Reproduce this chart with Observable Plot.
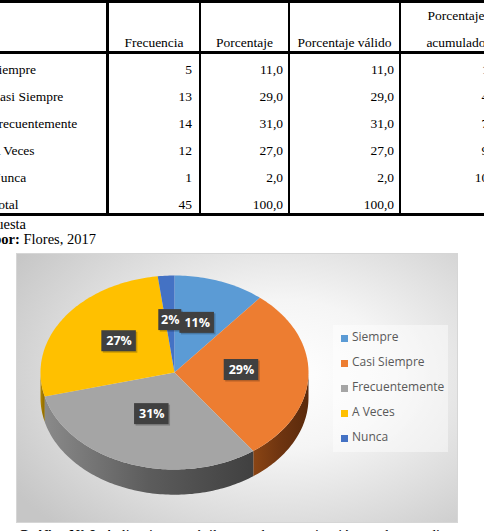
<!DOCTYPE html>
<html><head><meta charset="utf-8">
<script src="https://cdn.jsdelivr.net/npm/d3@7"></script>
<script src="https://cdn.jsdelivr.net/npm/@observablehq/plot@0.6"></script>
<style>
html,body{margin:0;padding:0;background:#fff;}
body{width:484px;height:531px;overflow:hidden;position:relative;font-family:"Liberation Serif","Times New Roman",serif;color:#000;}
#tbl{position:absolute;left:-20px;top:0;border-collapse:separate;border-spacing:0;font-size:13.5px;line-height:16px;}
#tbl td{padding:0;vertical-align:bottom;white-space:nowrap;}
#tbl td .c{display:flex;flex-direction:column;justify-content:flex-end;}
.src{position:absolute;font-size:14.5px;line-height:17px;white-space:nowrap;text-align:right;}
#chart{position:absolute;left:16px;top:253px;width:442px;height:270px;box-sizing:border-box;border:1px solid #d6d6d6;
 background:radial-gradient(ellipse 72% 80% at 60% 45%, #ffffff 0%, #f5f5f5 35%, #dcdcdc 70%, #c6c6c6 100%);}
#chart svg{position:absolute;left:0;top:0;}
#legend{position:absolute;left:333px;top:325px;width:115px;height:127px;background:rgba(255,255,255,0.45);font-family:"Open Sans",sans-serif;font-size:12px;color:#595959;}
#legend .it{position:absolute;left:0;height:16px;line-height:16px;white-space:nowrap;}
#legend .sw{position:absolute;left:8px;top:4.5px;width:7px;height:7px;}
#legend .tx{position:absolute;left:19px;top:-1px;}
#caption{position:absolute;left:18px;top:527px;font-size:14.5px;line-height:17px;white-space:nowrap;}
</style></head>
<body>
<table id="tbl"></table>
<div class="src" style="top:215.5px;right:458px;">Fuente: Encuesta</div>
<div class="src" style="top:231px;right:388px;"><b>Elaborado por:</b> Flores, 2017</div>
<div id="chart"></div>
<div id="legend"></div>
<div id="caption"><b>Gráfico N° 8:</b> Aplicaciones móviles para la comunicación con los estudiantes</div>
<script>
const categories = ["Siempre", "Casi Siempre", "Frecuentemente", "A Veces", "Nunca"];
const frecuencia = [5, 13, 14, 12, 1];
const porcentaje = [11.0, 29.0, 31.0, 27.0, 2.0];
const porcentajeValido = [11.0, 29.0, 31.0, 27.0, 2.0];
const porcentajeAcumulado = [11.0, 40.0, 71.0, 98.0, 100.0];
const totalLabel = "Total";
const totalFrecuencia = 45;
const totalPorcentaje = 100.0;
const totalValido = 100.0;
const headers = ["", "Frecuencia", "Porcentaje", "Porcentaje válido", ["Porcentaje", "acumulado"]];
const pieLabels = ["11%", "29%", "31%", "27%", "2%"];
const colors = ["#5B9BD5", "#ED7D31", "#A5A5A5", "#FFC000", "#4472C4"];

// ---------- table ----------
const fmtDec = v => v === "" ? "" : v.toFixed(1).replace(".", ",");
const colW = [126, 90, 87, 109, 110];
const colBR = [3, 2, 2, 2, 0];
const padR = [0, 7, 5, 5, 6];
const tbl = document.getElementById("tbl");
function addRow(cells, h, isHeader, isLast) {
  const tr = document.createElement("tr");
  cells.forEach((c, j) => {
    const td = document.createElement("td");
    td.style.borderRight = colBR[j] ? colBR[j] + "px solid #000" : "none";
    if (isHeader) { td.style.borderTop = "3px solid #000"; td.style.borderBottom = "3px solid #000"; }
    if (isLast) td.style.borderBottom = "3px solid #000";
    const div = document.createElement("div");
    div.className = "c";
    div.style.width = colW[j] + "px";
    div.style.height = h + "px";
    div.style.boxSizing = "border-box";
    if (isHeader) {
      div.style.alignItems = "center";
      if (Array.isArray(c)) {
        const a = document.createElement("div"); a.textContent = c[0]; a.style.marginBottom = "11px";
        const b = document.createElement("div"); b.textContent = c[1];
        div.appendChild(a); div.appendChild(b);
      } else { const a = document.createElement("div"); a.textContent = c; div.appendChild(a); }
    } else if (j === 0) {
      div.style.paddingLeft = "11px";
      div.style.alignItems = "flex-start";
      const a = document.createElement("div"); a.textContent = c; div.appendChild(a);
    } else {
      div.style.paddingRight = padR[j] + "px";
      div.style.alignItems = "flex-end";
      const a = document.createElement("div"); a.textContent = c; div.appendChild(a);
    }
    td.appendChild(div);
    tr.appendChild(td);
  });
  tbl.appendChild(tr);
}
addRow(headers, 48, true, false);
categories.forEach((c, i) => {
  addRow([c, String(frecuencia[i]), fmtDec(porcentaje[i]), fmtDec(porcentajeValido[i]), fmtDec(porcentajeAcumulado[i])], i === 0 ? 24 : 27, false, false);
});
addRow([totalLabel, String(totalFrecuencia), fmtDec(totalPorcentaje), fmtDec(totalValido), ""], 27, false, true);

// ---------- pie ----------
const depth = 0.26;
const total = d3.sum(porcentaje);
let acc = 0;
const slices = porcentaje.map((p, i) => {
  const a0 = acc / total * 2 * Math.PI; acc += p;
  const a1 = acc / total * 2 * Math.PI;
  return {i, cat: categories[i], a0, a1, color: colors[i], label: pieLabels[i]};
});
function arc(a0, a1, dv = 0) {
  const n = Math.max(2, Math.ceil((a1 - a0) / 0.02));
  return d3.range(n + 1).map(k => {
    const t = a0 + (a1 - a0) * k / n;
    return {u: Math.sin(t), v: -Math.cos(t) + dv};
  });
}
const tops = slices.map(s => ({...s, pts: [{u: 0, v: 0}, ...arc(s.a0, s.a1), {u: 0, v: 0}]}));
const sides = slices.map(s => {
  const t0 = Math.max(s.a0, Math.PI / 2), t1 = Math.min(s.a1, 3 * Math.PI / 2);
  if (t1 <= t0) return null;
  return {...s, pts: [...arc(t0, t1), ...arc(t0, t1, depth).reverse()]};
}).filter(Boolean);

const kx = (291 - 23) / 2, ky = (215 - 21) / 2;
const labelData = slices.map(s => {
  const m = (s.a0 + s.a1) / 2, r = 0.5;
  const u = r * Math.sin(m), v = -r * Math.cos(m);
  const w = s.label.length * 11.5, h = 21;
  return {u, v, label: s.label, x1: u - w / 2 / kx, x2: u + w / 2 / kx, y1: v - h / 2 / ky, y2: v + h / 2 / ky};
});

const marks = [];
sides.forEach(s => marks.push(Plot.line(s.pts, {x: "u", y: "v", fill: `url(#side${s.i})`, stroke: "none"})));
tops.forEach(s => marks.push(Plot.line(s.pts, {x: "u", y: "v", fill: s.color, stroke: "none"})));
marks.push(Plot.rect(labelData, {x1: "x1", x2: "x2", y1: "y1", y2: "y2", fill: "#000", fillOpacity: 0.22, dx: 1.5, dy: -2.5}));
marks.push(Plot.rect(labelData, {x1: "x1", x2: "x2", y1: "y1", y2: "y2", fill: "#404040", dy: -4}));
marks.push(Plot.text(labelData, {x: "u", y: "v", text: "label", fill: "#ffffff", fontWeight: "bold", fontSize: 12.5, fontFamily: "Open Sans", dy: -4}));

const svg = Plot.plot({
  width: 440, height: 268, margin: 0,
  x: {type: "linear", domain: [-1, 1], range: [23, 291], axis: null},
  y: {type: "linear", domain: [-1, 1], range: [21, 215], axis: null},
  style: {background: "transparent", overflow: "visible"},
  marks
});
const defs = d3.select(svg).insert("defs", ":first-child");
const sideStops = {
  1: ["#8a4514", "#6e3410", "#5a2a0c"],
  2: ["#8a8a8a", "#5c5c5c", "#404040"],
  3: ["#b38600", "#a07800", "#8a6800"]
};
sides.forEach(s => {
  const st = sideStops[s.i] || [d3.color(s.color).darker(1).formatHex(), d3.color(s.color).darker(1.5).formatHex(), d3.color(s.color).darker(2).formatHex()];
  const g = defs.append("linearGradient").attr("id", `side${s.i}`).attr("x1", 0).attr("x2", 1).attr("y1", 0).attr("y2", 0);
  st.forEach((c, k) => g.append("stop").attr("offset", k / (st.length - 1)).attr("stop-color", c));
});
document.getElementById("chart").appendChild(svg);

// ---------- legend ----------
const legend = document.getElementById("legend");
categories.forEach((c, i) => {
  const it = document.createElement("div");
  it.className = "it";
  it.style.top = (5 + 25 * i) + "px";
  it.innerHTML = `<span class="sw" style="background:${colors[i]}"></span><span class="tx"></span>`;
  it.querySelector(".tx").textContent = c;
  legend.appendChild(it);
});
</script>
</body></html>
